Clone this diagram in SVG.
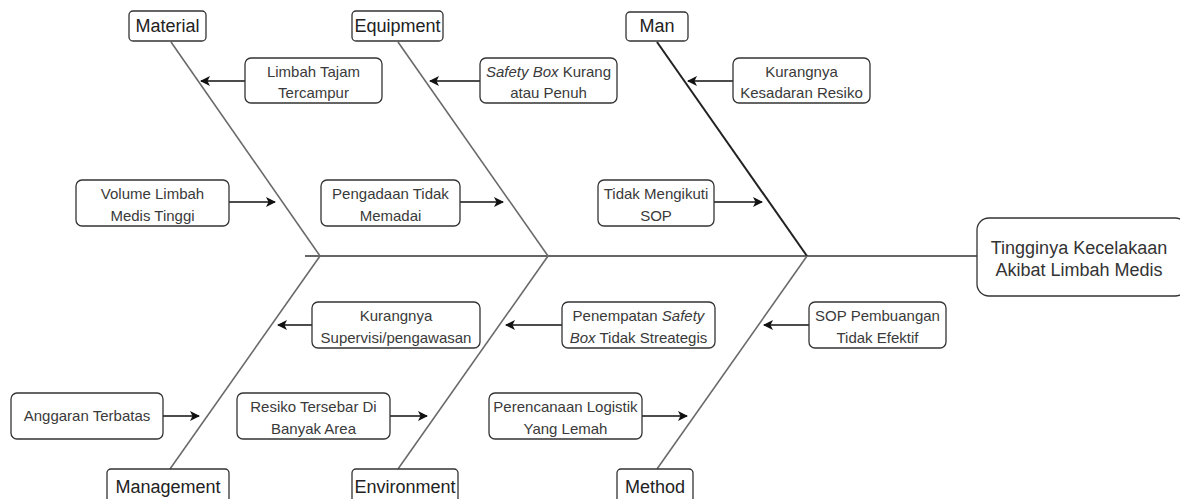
<svg xmlns="http://www.w3.org/2000/svg" width="1180" height="499" viewBox="0 0 1180 499">
<style>
.box{fill:#fff;stroke:#333;stroke-width:1.3}
.cat{font-family:"Liberation Sans",Arial,sans-serif;font-size:18px;fill:#222;text-anchor:middle}
.c{font-family:"Liberation Sans",Arial,sans-serif;font-size:15px;fill:#3a3a3a;text-anchor:middle}
.res{font-family:"Liberation Sans",Arial,sans-serif;font-size:18px;fill:#333;text-anchor:middle}
.bone{stroke:#6a6a6a;stroke-width:1.6;fill:none}
.arr{stroke:#111;stroke-width:1.3;fill:none;marker-end:url(#ah)}
</style>
<defs>
<marker id="ah" viewBox="0 0 10 10" refX="9" refY="5" markerWidth="10" markerHeight="10" markerUnits="userSpaceOnUse" orient="auto">
<path d="M0,0 L10,5 L0,10 L2.5,5 Z" fill="#111"/>
</marker>
</defs>
<g id="connectors">
<line x1="305" y1="256" x2="977" y2="256" stroke="#333" stroke-width="1.6"/>
<line class="bone" x1="171" y1="42" x2="320" y2="256"/>
<line class="bone" x1="398" y1="42" x2="548" y2="256"/>
<line x1="657" y1="42" x2="807" y2="256" stroke="#222" stroke-width="2"/>
<line class="bone" x1="320" y1="256" x2="170" y2="469"/>
<line class="bone" x1="548" y1="256" x2="398" y2="469"/>
<line class="bone" x1="807" y1="256" x2="657" y2="469"/>
<line class="arr" x1="245" y1="81" x2="201" y2="81"/>
<line class="arr" x1="229" y1="202" x2="275" y2="202"/>
<line class="arr" x1="460" y1="202" x2="503" y2="202"/>
<line class="arr" x1="480" y1="81" x2="430" y2="81"/>
<line class="arr" x1="733" y1="81" x2="688" y2="81"/>
<line class="arr" x1="714" y1="202" x2="762" y2="202"/>
<line class="arr" x1="312" y1="325" x2="278" y2="325"/>
<line class="arr" x1="562" y1="325" x2="506" y2="325"/>
<line class="arr" x1="809" y1="325" x2="764" y2="325"/>
<line class="arr" x1="163" y1="416" x2="199" y2="416"/>
<line class="arr" x1="390" y1="416" x2="427" y2="416"/>
<line class="arr" x1="642" y1="416" x2="687" y2="416"/>
</g>
<g id="result">
<rect class="box" x="977" y="218" width="210" height="78" rx="12"/>
<text class="res" x="1079" y="254">Tingginya Kecelakaan</text>
<text class="res" x="1079" y="276">Akibat Limbah Medis</text>
</g>
<g id="material"><rect class="box" x="129" y="11" width="77" height="30" rx="4"/><text class="cat" x="167.5" y="32">Material</text></g>
<g id="equipment"><rect class="box" x="352" y="11" width="91" height="30" rx="4"/><text class="cat" x="397.5" y="32">Equipment</text></g>
<g id="man"><rect class="box" x="626" y="12" width="62" height="29" rx="4"/><text class="cat" x="657" y="32">Man</text></g>
<g id="management"><rect class="box" x="107" y="469" width="122" height="34" rx="4"/><text class="cat" x="168" y="493">Management</text></g>
<g id="environment"><rect class="box" x="352" y="469" width="106" height="34" rx="4"/><text class="cat" x="405" y="493">Environment</text></g>
<g id="method"><rect class="box" x="617" y="469" width="76" height="34" rx="4"/><text class="cat" x="655" y="493">Method</text></g>
<g id="c1"><rect class="box" x="245" y="58" width="137" height="45" rx="6"/><text class="c" x="313.5" y="77">Limbah Tajam</text><text class="c" x="313.5" y="98">Tercampur</text></g>
<g id="c2"><rect class="box" x="76" y="180" width="153" height="46" rx="6"/><text class="c" x="152.5" y="199">Volume Limbah</text><text class="c" x="152.5" y="221">Medis Tinggi</text></g>
<g id="c3"><rect class="box" x="321" y="180" width="139" height="46" rx="6"/><text class="c" x="390.5" y="199">Pengadaan Tidak</text><text class="c" x="390.5" y="221">Memadai</text></g>
<g id="c4"><rect class="box" x="480" y="58" width="137" height="45" rx="6"/><text class="c" x="548.5" y="77"><tspan font-style="italic">Safety Box</tspan> Kurang</text><text class="c" x="548.5" y="98">atau Penuh</text></g>
<g id="c5"><rect class="box" x="733" y="58" width="137" height="45" rx="6"/><text class="c" x="801.5" y="77">Kurangnya</text><text class="c" x="801.5" y="98">Kesadaran Resiko</text></g>
<g id="c6"><rect class="box" x="598" y="180" width="116" height="46" rx="6"/><text class="c" x="656" y="199">Tidak Mengikuti</text><text class="c" x="656" y="221">SOP</text></g>
<g id="c7"><rect class="box" x="312" y="302" width="168" height="46" rx="6"/><text class="c" x="396" y="321">Kurangnya</text><text class="c" x="396" y="343">Supervisi/pengawasan</text></g>
<g id="c8"><rect class="box" x="562" y="302" width="153" height="46" rx="6"/><text class="c" x="638.5" y="321">Penempatan <tspan font-style="italic">Safety</tspan></text><text class="c" x="638.5" y="343"><tspan font-style="italic">Box</tspan> Tidak Streategis</text></g>
<g id="c9"><rect class="box" x="809" y="302" width="137" height="46" rx="6"/><text class="c" x="877.5" y="321">SOP Pembuangan</text><text class="c" x="877.5" y="343">Tidak Efektif</text></g>
<g id="c10"><rect class="box" x="11" y="393" width="152" height="46" rx="6"/><text class="c" x="87" y="421">Anggaran Terbatas</text></g>
<g id="c11"><rect class="box" x="237" y="393" width="153" height="46" rx="6"/><text class="c" x="313.5" y="412">Resiko Tersebar Di</text><text class="c" x="313.5" y="434">Banyak Area</text></g>
<g id="c12"><rect class="box" x="489" y="393" width="153" height="46" rx="6"/><text class="c" x="565.5" y="412">Perencanaan Logistik</text><text class="c" x="565.5" y="434">Yang Lemah</text></g>
</svg>
